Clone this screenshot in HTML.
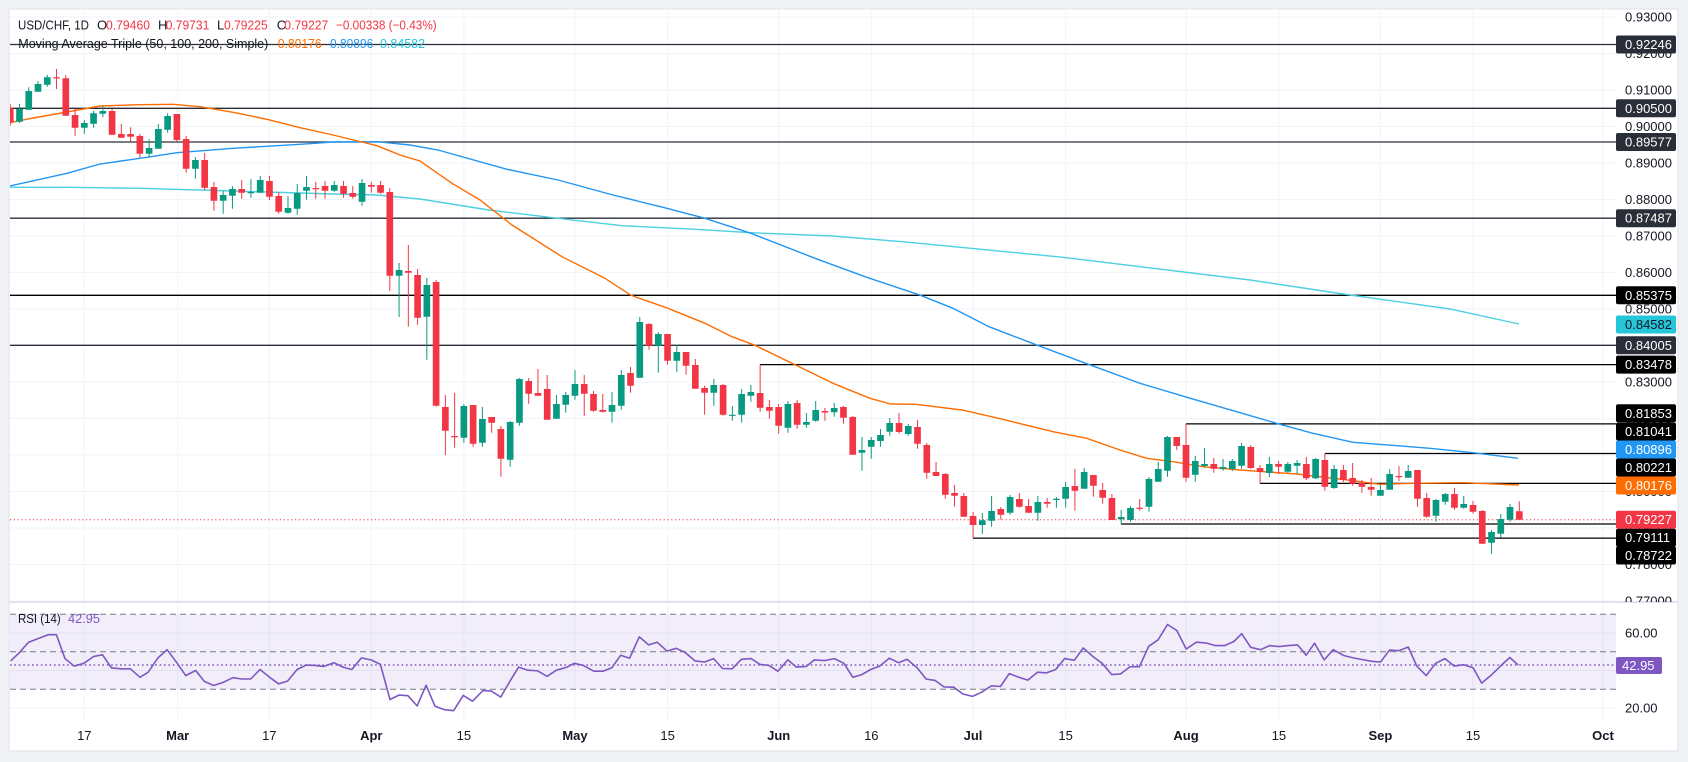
<!DOCTYPE html>
<html><head><meta charset="utf-8"><style>
html,body{margin:0;padding:0;background:#f1f2f5;width:1688px;height:762px;overflow:hidden}
svg{display:block;font-family:"Liberation Sans",sans-serif}
</style></head><body>
<svg width="1688" height="762" viewBox="0 0 1688 762" xmlns="http://www.w3.org/2000/svg">
<defs>
<clipPath id="mp"><rect x="10" y="10" width="1606" height="592"/></clipPath>
<clipPath id="rp"><rect x="10" y="603" width="1606" height="117"/></clipPath>
<clipPath id="ax"><rect x="1616" y="10" width="62" height="592"/></clipPath>
</defs>
<rect x="9" y="9" width="1669" height="742" fill="#fff" stroke="#e0e3eb" stroke-width="1"/>
<!-- vertical grid -->
<g stroke="#f0f3fa" stroke-width="1">
<path d="M84.3 10V720M177.7 10V720M269.3 10V720M371.3 10V720M463.9 10V720M575 10V720M667.6 10V720M778.7 10V720M871.3 10V720M973 10V720M1065.6 10V720M1186 10V720M1278.9 10V720M1380.4 10V720M1473 10V720M1603 10V720"/>
<path d="M10 17H1616M10 53.5H1616M10 90H1616M10 126.5H1616M10 163H1616M10 199.5H1616M10 236H1616M10 272.5H1616M10 309H1616M10 345.5H1616M10 382H1616M10 418.5H1616M10 455H1616M10 491.5H1616M10 528H1616M10 564.5H1616M10 601H1616"/>
<path d="M10 633H1616M10 670.5H1616M10 708H1616"/>
</g>
<g clip-path="url(#mp)">
<g stroke-width="1.3" fill="none">
<path stroke="#2a2e39" d="M10 44.5H1616M10 108.3H1616M10 142H1616M10 218.2H1616M10 345.3H1616"/>
<path stroke="#000" d="M10 295.3H1616M760 364.6H1616M1186 423.9H1616M1325 453.5H1616M1260 483.4H1616M1121 524H1616M973 538.1H1616"/>
</g>
<!-- MAs -->
<polyline fill="none" stroke="#4dd0e1" stroke-width="1.4" points="10,187.3 67,187.3 140,188.3 233,191 333,194 377,195 420,199 489,210 558,218.3 622,225.7 695.5,229.3 750.6,232.7 833,236 902,241.7 971,248.3 1063,257.3 1140,266.7 1250,280 1350,295 1450,309 1519,324"/>
<polyline fill="none" stroke="#2196f3" stroke-width="1.4" points="10,186 67,173.3 100,164 140,158.3 177,152.7 233,148.3 300,144.3 333,142 377,141.7 410,145 438,150 507,169.3 558,180 613,195 663,207.3 705,218.3 751,233.3 815,258.3 865,276.7 920.5,295.3 953,308.3 989,326.7 1037.5,345.3 1085.7,363.3 1140,383.3 1187,397.3 1240,412.7 1280,424.3 1313,433.3 1353,442.3 1397,445.7 1430,448.3 1473,452.7 1518,458.3"/>
<polyline fill="none" stroke="#ff6d00" stroke-width="1.4" points="10,122.7 33,118 67,112 100,106 140,104.7 173,104.3 200,106.7 233,112.3 267,119.3 300,127.7 333,135 377,145.7 400,155 420,161 452,183.3 480,200 512,225 562,256.7 604,277.7 631,295.3 668,308.3 705,323.3 732,336.7 755,345.3 794,364.3 833,383.3 870,398.3 890.6,404 916,404.3 962,410 998.5,418.3 1053,431.7 1086.7,438.3 1120,450 1146.7,458.3 1173,461.7 1203,466.7 1240,470 1296.7,474 1340,479 1380,484.3 1413,483.3 1463,482.7 1519,485"/>
<path d="M10 519.7H1616" stroke="#f23645" stroke-width="1" stroke-dasharray="1.2 2.6"/>
<!-- candles -->
<g transform="matrix(9.258 0 0 1 10.24 0)">
<path fill="#089981" d="M.64 109h.72V121.7h-.72zM1.64 91h.72V109.7h-.72zM2.64 84h.72V91.7h-.72zM3.64 77.3h.72V84.7h-.72zM7.64 123h.72V127.7h-.72zM8.64 113.3h.72V123.7h-.72zM9.64 111h.72V113.7h-.72zM14.64 148h.72V153.7h-.72zM15.64 129h.72V148.7h-.72zM16.64 116h.72V129.7h-.72zM19.64 160h.72V168.7h-.72zM22.64 195h.72V200.7h-.72zM23.64 189h.72V195.7h-.72zM25.64 192h.72V193.2h-.72zM26.64 180h.72V192.7h-.72zM29.64 208h.72V212.7h-.72zM30.64 193h.72V208.7h-.72zM31.64 187h.72V190.7h-.72zM34.64 185h.72V190.7h-.72zM37.64 183h.72V201.7h-.72zM41.64 270h.72V275.7h-.72zM44.64 285h.72V316.7h-.72zM48.64 406h.72V437.7h-.72zM50.64 419h.72V442.7h-.72zM53.64 422h.72V459.7h-.72zM54.64 379h.72V422.7h-.72zM58.64 404h.72V418.7h-.72zM59.64 395h.72V404.7h-.72zM60.64 384h.72V395.7h-.72zM64.64 405h.72V411.7h-.72zM65.64 375h.72V405.7h-.72zM67.64 322h.72V377.7h-.72zM69.64 334h.72V345.7h-.72zM71.64 352h.72V360.7h-.72zM75.64 385h.72V392.7h-.72zM77.64 414.7h.72V415.9h-.72zM78.64 394h.72V414.7h-.72zM79.64 392h.72V395.7h-.72zM83.64 404h.72V427.7h-.72zM85.64 422h.72V424.7h-.72zM86.64 410h.72V420.7h-.72zM88.64 408h.72V412.3h-.72zM91.64 450h.72V452.7h-.72zM92.64 440h.72V446.7h-.72zM93.64 435h.72V441h-.72zM94.64 423h.72V431.7h-.72zM96.64 426h.72V434h-.72zM104.64 520.3h.72V525h-.72zM105.64 511h.72V520.7h-.72zM107.64 497h.72V512.7h-.72zM110.64 502h.72V512.7h-.72zM112.64 498.7h.72V500h-.72zM113.64 487h.72V498.7h-.72zM115.64 472h.72V488.7h-.72zM119.64 517h.72V519.3h-.72zM120.64 508h.72V520h-.72zM122.64 479h.72V506.7h-.72zM123.64 469h.72V481.7h-.72zM124.64 437h.72V470.7h-.72zM127.64 461h.72V474.7h-.72zM128.64 464h.72V466h-.72zM130.64 467h.72V468.7h-.72zM131.64 461h.72V469h-.72zM132.64 446h.72V465.7h-.72zM135.64 464h.72V473h-.72zM137.64 464h.72V471.7h-.72zM138.64 463h.72V465.7h-.72zM140.64 459h.72V478.3h-.72zM142.64 469h.72V488h-.72zM147.64 490h.72V495.7h-.72zM148.64 474h.72V489.7h-.72zM150.64 471h.72V477.7h-.72zM153.64 500h.72V515.7h-.72zM154.64 494h.72V501.7h-.72zM156.64 504h.72V507.7h-.72zM159.64 532h.72V542.7h-.72zM160.64 519h.72V533.7h-.72zM161.64 507h.72V519.7h-.72z"/>
<path fill="none" stroke="#089981" stroke-width="1" vector-effect="non-scaling-stroke" d="M1 104V123M2 87.3V109.7M3 81V91.7M4 75V86.7M8 120V133.7M9 111V127.7M10 106V117.3M15 139.3V157.3M16 124V148.7M17 113.3V132.7M20 157V178.7M23 191V213.7M24 186V208.7M26 179V197.7M27 176V192.7M30 196V213.7M31 184V214.7M32 176V199.7M35 181V191.7M38 179V205.7M42 263V317M45 278V359.7M49 404V442.7M51 407V446.7M54 421V466.7M55 378V425.7M59 395V418.7M60 392V412.7M61 370V399.7M65 392V422.7M66 370V409.7M68 317V377.7M70 332V372.7M72 345V371.7M76 379V405.7M78 406V420.7M79 389V422.7M80 385V401.7M84 401V432.7M86 413V427.7M87 401V421.7M89 403V416.7M92 437V470.7M93 437V458.7M94 429V446.7M95 418V435.7M97 424V435.7M105 513V534M106 496V526.7M108 495V514.7M111 496V520.7M113 497V507.7M114 482V507.7M116 468V488.7M120 510V524M121 506V521.7M123 477V511.7M124 462V481.7M125 436V476.7M128 456V481.7M129 448V467.7M131 459V470.7M132 459V471M133 443V468.7M136 457V477M138 462V473M139 460V474M141 458V479M143 465V488.7M148 485V495.7M149 469V489.7M151 465V477.7M154 499V521.7M155 493V504.7M157 496V508.7M160 530V553.7M161 514V537.7M162 504V521.7"/>
<path fill="#f23645" d="M-.36 108.3h.72V122.3h-.72zM4.64 77.3h.72V78.5h-.72zM5.64 78.3h.72V115.7h-.72zM6.64 115h.72V127.7h-.72zM10.64 111h.72V134.7h-.72zM11.64 134h.72V137.7h-.72zM12.64 134h.72V136.7h-.72zM13.64 136h.72V153.7h-.72zM17.64 114h.72V140h-.72zM18.64 139h.72V168.7h-.72zM20.64 160h.72V187.7h-.72zM21.64 187h.72V200.7h-.72zM24.64 189h.72V192.7h-.72zM27.64 181h.72V196.7h-.72zM28.64 196h.72V211.7h-.72zM32.64 188h.72V189.2h-.72zM33.64 186h.72V190.7h-.72zM35.64 186h.72V193.7h-.72zM36.64 193h.72V196.7h-.72zM38.64 185h.72V186.7h-.72zM39.64 185h.72V192.7h-.72zM40.64 192h.72V275.7h-.72zM42.64 271h.72V272.7h-.72zM43.64 275h.72V317.7h-.72zM45.64 282h.72V405.7h-.72zM46.64 407h.72V430.7h-.72zM47.64 436h.72V437.2h-.72zM49.64 405h.72V443.7h-.72zM51.64 417h.72V422.7h-.72zM52.64 429h.72V458.7h-.72zM55.64 381h.72V393.7h-.72zM56.64 393h.72V395.7h-.72zM57.64 389h.72V419.7h-.72zM61.64 384h.72V393.7h-.72zM62.64 394h.72V410.7h-.72zM63.64 410h.72V411.7h-.72zM66.64 373h.72V385.7h-.72zM68.64 324h.72V345.7h-.72zM70.64 334h.72V360.7h-.72zM72.64 352h.72V365.7h-.72zM73.64 365h.72V388.7h-.72zM74.64 388h.72V392.7h-.72zM76.64 385h.72V414.7h-.72zM80.64 393h.72V407.7h-.72zM81.64 407h.72V410.7h-.72zM82.64 407h.72V425.7h-.72zM84.64 403h.72V424.7h-.72zM87.64 411h.72V412.5h-.72zM89.64 407h.72V417.7h-.72zM90.64 417h.72V454.7h-.72zM95.64 423h.72V432h-.72zM97.64 427h.72V443.7h-.72zM98.64 445h.72V472.7h-.72zM99.64 472h.72V476h-.72zM100.64 474h.72V494.7h-.72zM101.64 493h.72V495.7h-.72zM102.64 496h.72V516.7h-.72zM103.64 516h.72V525h-.72zM106.64 509h.72V514.7h-.72zM108.64 499h.72V506.7h-.72zM109.64 506h.72V512.7h-.72zM111.64 502h.72V503.7h-.72zM114.64 486h.72V490.7h-.72zM116.64 475h.72V485.7h-.72zM117.64 490h.72V497.7h-.72zM118.64 498h.72V520h-.72zM121.64 507.7h.72V508.9h-.72zM125.64 437h.72V446h-.72zM126.64 445h.72V477.7h-.72zM129.64 464h.72V468.7h-.72zM133.64 447h.72V468h-.72zM134.64 468h.72V471.7h-.72zM136.64 464h.72V466.7h-.72zM139.64 464h.72V478.3h-.72zM141.64 460h.72V486.7h-.72zM143.64 470h.72V480h-.72zM144.64 478h.72V483.7h-.72zM145.64 483h.72V486.7h-.72zM146.64 487h.72V489.7h-.72zM149.64 476h.72V477.2h-.72zM151.64 470h.72V498.7h-.72zM152.64 498h.72V516.7h-.72zM155.64 494h.72V507.7h-.72zM157.64 505h.72V511.7h-.72zM158.64 511h.72V543.7h-.72zM162.64 511.2h.72V519.7h-.72z"/>
<path fill="none" stroke="#f23645" stroke-width="1" vector-effect="non-scaling-stroke" d="M0 104V125.7M5 69V89M6 75V115.7M7 109V135.7M11 109V134.7M12 124V137.7M13 127.3V141.7M14 134V157.7M18 114V141.3M19 136V172.7M21 153V190M22 182V210.7M25 180V198.7M28 176V200M29 192V213.7M33 182V198.7M34 181V198.7M36 181V197.7M37 186V198.7M39 182V192.7M40 181V193.7M41 188V291M43 245V326.7M44 269V324.7M46 280V406.7M47 395V455M48 393V447.7M50 405V446.7M52 417V432.7M53 426V476.7M56 378V403.7M57 369V395.7M58 375V419.7M62 375V415.7M63 391V411.7M64 394V412.7M67 367V392.7M69 323V349.7M71 334V364.7M73 352V374.7M74 359V388.7M75 385.7V414.7M77 384V415.7M81 364.6V411.7M82 400V418.7M83 404V433.7M85 400V428.7M88 408V420.7M90 406V423.7M91 416V454.7M96 413V433.7M98 420V448.7M99 443V478.7M100 462V476M101 473V498.7M102 485V506.7M103 493V516.7M104 512V538M107 507V519.7M109 493V507.7M110 499V512.7M112 498V507.7M115 469V510.7M117 475V496.7M118 483V503.7M119 494V520M122 499V510.7M126 437V450M127 424V481.7M130 458V472.7M134 445V469M135 465V483.4M137 461V474M140 457V480M142 453.5V490.7M144 465V482M145 463V485.7M146 480V492.7M147 478V495.7M150 466V481M152 470V506.7M153 493V517.7M156 488V509.7M158 501V513.7M159 510V543.7M163 501.3V519.7"/>
</g>
</g>
<!-- RSI pane -->
<g clip-path="url(#rp)">
<rect x="10" y="614.25" width="1606" height="75" fill="rgba(126,87,194,0.1)"/>
<path d="M10 614.25H1616M10 651.75H1616M10 689.25H1616" stroke="#787b86" stroke-width="1" stroke-dasharray="6 4" fill="none"/>
<path d="M10 665H1616" stroke="#7e57c2" stroke-width="1.6" stroke-dasharray="1.6 2.8"/>
<polyline fill="none" stroke="#7e57c2" stroke-width="1.6" stroke-linejoin="round" points="10.7,660.9 19.6,652.4 28.6,642.2 39.3,638.1 48.2,634.7 56.4,634.7 65,658.6 74.3,666.1 83.9,663.3 93.6,656.5 102.5,654.8 111.4,667.8 120.7,668.8 130.4,668.8 140,677.3 148.2,672.2 157.9,657.9 167.1,649.7 176.8,662.7 185.7,675.6 195.7,670.5 204.3,681.4 213.6,685.5 223.2,682.4 232.9,677.7 241.8,679 250.7,679 260,669.5 269.6,677.3 278.6,683.8 287.5,681.1 297.1,669.5 306.1,665.1 315,665.4 323.9,666.4 333.9,662.7 342.9,667.1 351.8,669.5 361.4,657.9 371.4,660 380.4,664.4 390,699.5 398.9,695.1 407.9,695.7 417.1,705.9 426.1,685.2 435,706.3 444.6,709.7 453.6,710.7 463.2,695.4 472.5,701.2 482.9,690.6 491.1,690.9 500.7,697.1 510,681.1 518.6,667.1 527.9,670.2 537.5,670.8 547.1,676.3 556.4,670.2 567.1,667.1 574.3,663.3 583.2,665.4 593.9,671.2 602.9,671.2 611.8,667.8 620.7,655.2 629.6,658.2 639.3,636.8 648.6,644.9 657.1,642.2 667.1,651.1 676.1,648.3 685,652.4 695,660.9 704.6,662 713.6,658.6 722.5,668.5 732.1,668.8 741.4,659.3 751.1,658.6 760,664.4 768.9,665.4 777.9,671.2 787.9,659.9 796.4,667.1 806.4,666.4 814.3,659.9 824.3,660.6 834.3,658.6 843.9,663.3 852.9,677.3 861.8,674.6 870.7,669.5 879.6,666.1 889.3,658.2 898.6,662.7 907.1,659.3 917.1,667.8 926.1,679 935,680.4 943.9,686.9 953.6,687.2 962.9,694 972.5,696.4 981.4,692.3 991.4,685.8 1000.4,686.5 1009.3,673.6 1018.9,677.3 1027.9,680.1 1037.5,672.2 1046.4,672.9 1055.7,669.5 1064.6,658.6 1074.3,660.3 1083.2,648 1092.9,656.5 1102.1,663.3 1111.8,674.6 1120.6,673.9 1130,666.7 1139.4,666.7 1148.7,646.3 1158.1,639.8 1167.5,624.5 1176.9,630.6 1186.2,649 1196.4,642.2 1205.7,642.9 1215.5,645.6 1224.5,645.6 1233.9,641.5 1241.7,633.7 1250.7,647.3 1260.5,649.7 1269.5,645.6 1279.2,646.6 1288.2,645.6 1297.6,644.9 1306.2,655.2 1314.5,643.2 1324.2,659.9 1333.2,649.7 1343.7,655.5 1353.1,657.9 1362.5,659.6 1371.8,661.3 1380.5,662 1389.5,650.1 1398.8,650.7 1408.2,647 1416.8,666.1 1426.2,675.6 1435.6,663.3 1445,658.6 1454.3,666.1 1463.7,664.7 1473.1,667.8 1481.7,683.1 1491.8,674.6 1501.2,665.4 1509.8,657.5 1518.1,665"/>
</g>
<path d="M9 602H1678" stroke="#e0e3eb" stroke-width="2"/>
<!-- legends -->
<g font-size="13" fill="#131722">
<text x="18" y="29.5" textLength="71" lengthAdjust="spacingAndGlyphs">USD/CHF, 1D</text>
<text x="97" y="29.5">O</text>
<text x="106" y="29.5" fill="#f23645" textLength="44" lengthAdjust="spacingAndGlyphs">0.79460</text>
<text x="158" y="29.5">H</text>
<text x="165.7" y="29.5" fill="#f23645" textLength="43.6" lengthAdjust="spacingAndGlyphs">0.79731</text>
<text x="217" y="29.5">L</text>
<text x="224" y="29.5" fill="#f23645" textLength="43.7" lengthAdjust="spacingAndGlyphs">0.79225</text>
<text x="276.7" y="29.5">C</text>
<text x="284.3" y="29.5" fill="#f23645" textLength="44" lengthAdjust="spacingAndGlyphs">0.79227</text>
<text x="336" y="29.5" fill="#f23645" textLength="100.7" lengthAdjust="spacingAndGlyphs">−0.00338 (−0.43%)</text>
<text x="18.3" y="48" textLength="250" lengthAdjust="spacingAndGlyphs">Moving Average Triple (50, 100, 200, Simple)</text>
<text x="277.7" y="48" fill="#ff6d00" textLength="44" lengthAdjust="spacingAndGlyphs">0.80176</text>
<text x="330" y="48" fill="#2196f3" textLength="43.3" lengthAdjust="spacingAndGlyphs">0.80896</text>
<text x="380" y="48" fill="#26c6da" textLength="45" lengthAdjust="spacingAndGlyphs">0.84582</text>
<text x="18" y="623" textLength="42.7" lengthAdjust="spacingAndGlyphs">RSI (14)</text>
<text x="68" y="623" fill="#7e57c2" textLength="32" lengthAdjust="spacingAndGlyphs">42.95</text>
</g>
<!-- price axis ticks -->
<g clip-path="url(#ax)" font-size="13" fill="#131722">
<text x="1625" y="21.5">0.93000</text>
<text x="1625" y="58">0.92000</text>
<text x="1625" y="94.5">0.91000</text>
<text x="1625" y="131">0.90000</text>
<text x="1625" y="167.5">0.89000</text>
<text x="1625" y="204">0.88000</text>
<text x="1625" y="240.5">0.87000</text>
<text x="1625" y="277">0.86000</text>
<text x="1625" y="313.5">0.85000</text>
<text x="1625" y="350">0.84000</text>
<text x="1625" y="386.5">0.83000</text>
<text x="1625" y="423">0.82000</text>
<text x="1625" y="459.5">0.81000</text>
<text x="1625" y="496">0.80000</text>
<text x="1625" y="532.5">0.79000</text>
<text x="1625" y="569">0.78000</text>
<text x="1625" y="605.5">0.77000</text>
</g>
<!-- price boxes -->
<g font-size="13">
<rect x="1616" y="35.5" width="60" height="18" rx="2" fill="#2a2e39"/><text x="1625" y="49" fill="#fff">0.92246</text>
<rect x="1616" y="99.3" width="60" height="18" rx="2" fill="#2a2e39"/><text x="1625" y="112.8" fill="#fff">0.90500</text>
<rect x="1616" y="133" width="60" height="18" rx="2" fill="#2a2e39"/><text x="1625" y="146.5" fill="#fff">0.89577</text>
<rect x="1616" y="209.2" width="60" height="18" rx="2" fill="#2a2e39"/><text x="1625" y="222.7" fill="#fff">0.87487</text>
<rect x="1616" y="286.3" width="60" height="18" rx="2" fill="#000"/><text x="1625" y="299.8" fill="#fff">0.85375</text>
<rect x="1616" y="315.5" width="60" height="18" rx="2" fill="#26c6da"/><text x="1625" y="329" fill="#131722">0.84582</text>
<rect x="1616" y="336.3" width="60" height="18" rx="2" fill="#2a2e39"/><text x="1625" y="349.8" fill="#fff">0.84005</text>
<rect x="1616" y="355.6" width="60" height="18" rx="2" fill="#000"/><text x="1625" y="369.1" fill="#fff">0.83478</text>
<rect x="1616" y="404.3" width="60" height="18" rx="2" fill="#000"/><text x="1625" y="417.8" fill="#fff">0.81853</text>
<rect x="1616" y="422.5" width="60" height="18" rx="2" fill="#000"/><text x="1625" y="436" fill="#fff">0.81041</text>
<rect x="1616" y="440.5" width="60" height="18" rx="2" fill="#2196f3"/><text x="1625" y="454" fill="#fff">0.80896</text>
<rect x="1616" y="458.5" width="60" height="18" rx="2" fill="#000"/><text x="1625" y="472" fill="#fff">0.80221</text>
<rect x="1616" y="476.5" width="60" height="18" rx="2" fill="#ff6d00"/><text x="1625" y="490" fill="#fff">0.80176</text>
<rect x="1616" y="510.7" width="60" height="18" rx="2" fill="#f23645"/><text x="1625" y="524.2" fill="#fff">0.79227</text>
<rect x="1616" y="528.7" width="60" height="18" rx="2" fill="#000"/><text x="1625" y="542.2" fill="#fff">0.79111</text>
<rect x="1616" y="546.5" width="60" height="18" rx="2" fill="#000"/><text x="1625" y="560" fill="#fff">0.78722</text>
</g>
<g font-size="13" fill="#131722">
<text x="1625" y="637.5">60.00</text>
<text x="1625" y="712.5">20.00</text>
</g>
<rect x="1616" y="657" width="46" height="17" rx="2" fill="#7e57c2"/>
<text x="1622" y="670" font-size="13" fill="#fff">42.95</text>
<!-- time axis -->
<g font-size="13" fill="#131722" text-anchor="middle">
<text x="84.3" y="740">17</text>
<text x="177.7" y="740" font-weight="bold">Mar</text>
<text x="269.3" y="740">17</text>
<text x="371.3" y="740" font-weight="bold">Apr</text>
<text x="463.9" y="740">15</text>
<text x="575" y="740" font-weight="bold">May</text>
<text x="667.6" y="740">15</text>
<text x="778.7" y="740" font-weight="bold">Jun</text>
<text x="871.3" y="740">16</text>
<text x="973" y="740" font-weight="bold">Jul</text>
<text x="1065.6" y="740">15</text>
<text x="1186" y="740" font-weight="bold">Aug</text>
<text x="1278.9" y="740">15</text>
<text x="1380.4" y="740" font-weight="bold">Sep</text>
<text x="1473" y="740">15</text>
<text x="1603" y="740" font-weight="bold">Oct</text>
</g>
</svg>
</body></html>
